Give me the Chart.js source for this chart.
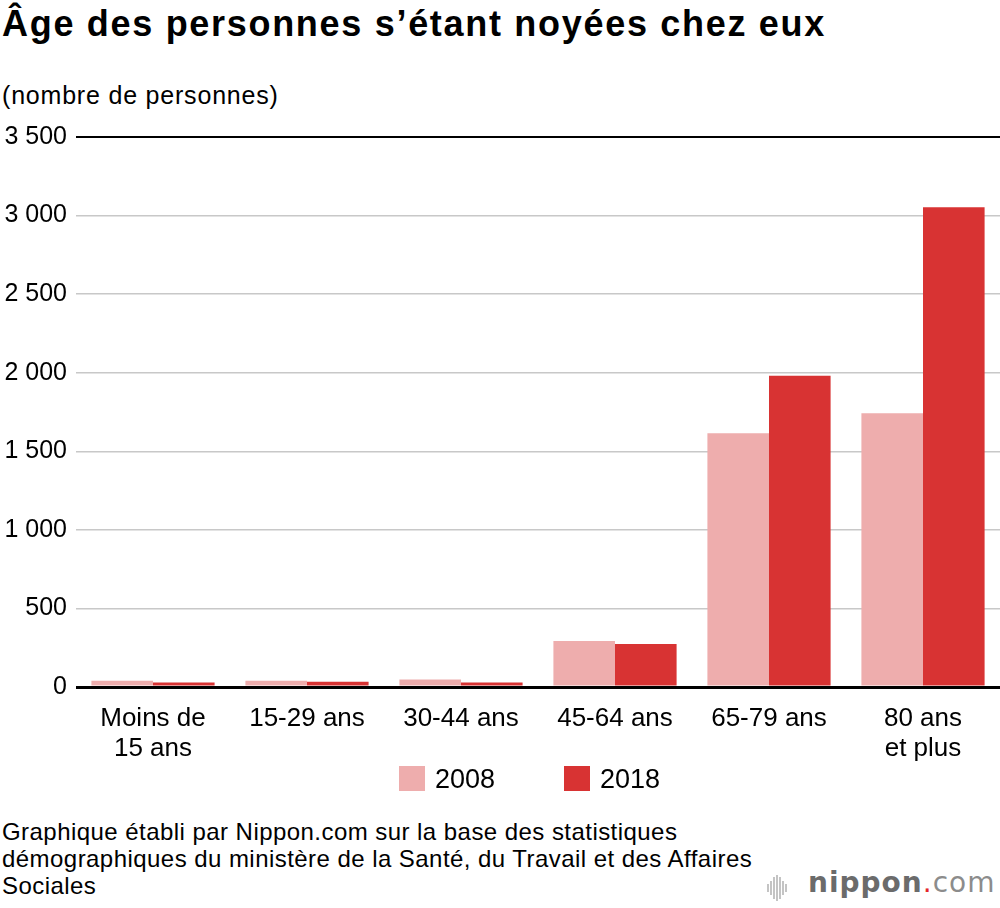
<!DOCTYPE html>
<html lang="fr">
<head>
<meta charset="utf-8">
<script src="https://cdn.jsdelivr.net/npm/chart.js@4/dist/chart.umd.min.js"></script>
<style>
  html, body { margin: 0; padding: 0; background: #fff; }
  body { width: 1000px; height: 908px; position: relative; overflow: hidden;
         font-family: "Liberation Sans", Arial, sans-serif; color: #000; }
  #title { position: absolute; left: 2px; top: 3px; font-size: 36px; line-height: 42px; font-weight: bold; margin: 0; letter-spacing: 1.7px; white-space: nowrap; }
  #unit { position: absolute; left: 2px; top: 80px; font-size: 25px; line-height: 30px; letter-spacing: 0.8px; }
  #chartBox { position: absolute; left: 0; top: 113px; width: 1000px; height: 653px; }
  #legend { position: absolute; top: 762px; left: 0; width: 1000px; height: 34px; font-size: 27px; line-height: 34px; }
  #legend span { position: absolute; top: 4px; width: 26px; height: 25px; }
  #legend em { position: absolute; top: 0; font-style: normal; }
  #source { position: absolute; left: 2px; top: 818px; font-size: 24px; line-height: 27px; letter-spacing: 0.45px; white-space: nowrap; }
  #logo { position: absolute; left: 767px; top: 866px; font-family: "DejaVu Sans", sans-serif; font-size: 28px; line-height: 34px; letter-spacing: 1px; color: #6b6b6b; white-space: nowrap; }
  #logo .bars { display: inline-block; vertical-align: -4px; margin-right: 20px; height: 26px; }
  #logo .bars i { display: inline-block; width: 2px; background: #c4c4c4; margin-right: 1px; vertical-align: middle; }
  #logo b { font-weight: bold; }
  #logo .dot { color: #e5262b; }
  #logo .com { color: #8c8c8c; }
</style>
</head>
<body>
<h1 id="title">Âge des personnes s’étant noyées chez eux</h1>
<div id="unit">(nombre de personnes)</div>
<div id="chartBox"><canvas id="drownChart"></canvas></div>
<div id="legend"></div>
<div id="source">Graphique établi par Nippon.com sur la base des statistiques<br>démographiques du ministère de la Santé, du Travail et des Affaires<br>Sociales</div>
<div id="logo"><span class="bars"><i style="height:8px"></i><i style="height:14px"></i><i style="height:22px"></i><i style="height:26px"></i><i style="height:22px"></i><i style="height:14px"></i><i style="height:8px"></i></span><b>nippon</b><span class="dot">.</span><span class="com">com</span></div>

<script>
// données
const ageGroups = [['Moins de', '15 ans'], '15-29 ans', '30-44 ans', '45-64 ans', '65-79 ans', ['80 ans', 'et plus']];
const years = ['2008', '2018'];
const deaths2008 = [40, 40, 47, 292, 1615, 1742];
const deaths2018 = [28, 34, 28, 274, 1980, 3053];
const yTicks = [0, 500, 1000, 1500, 2000, 2500, 3000, 3500];
const barColors = ['#eeadad', '#d83333'];

const fontFamily = '"Liberation Sans", Arial, sans-serif';
const fmt = v => String(v).replace(/\B(?=(\d{3})+(?!\d))/g, ' ');

// légende
const legendBox = document.getElementById('legend');
const legendX = [399, 564];
years.forEach((y, i) => {
  legendBox.insertAdjacentHTML('beforeend',
    `<span style="left:${legendX[i]}px;background:${barColors[i]}"></span><em style="left:${legendX[i] + 36}px">${y}</em>`);
});

const ctx = document.getElementById('drownChart').getContext('2d');
new Chart(ctx, {
  type: 'bar',
  data: {
    labels: ageGroups,
    datasets: [
      { label: years[0], data: deaths2008, backgroundColor: barColors[0], borderWidth: 0 },
      { label: years[1], data: deaths2018, backgroundColor: barColors[1], borderWidth: 0 }
    ]
  },
  options: {
    responsive: true,
    maintainAspectRatio: false,
    animation: false,
    layout: { padding: { top: 22, right: 0, left: 0, bottom: 0 } },
    datasets: { bar: { categoryPercentage: 0.8, barPercentage: 1.0 } },
    plugins: {
      legend: { display: false },
      tooltip: { enabled: false }
    },
    scales: {
      x: {
        grid: { display: false },
        border: { display: false },
        afterFit: axis => { axis.height = 79; },
        ticks: {
          color: '#000',
          maxRotation: 0,
          autoSkip: false,
          padding: 9,
          font: { family: fontFamily, size: 26, lineHeight: 1.15 }
        }
      },
      y: {
        min: 0,
        max: 3500,
        afterBuildTicks: axis => { axis.ticks = yTicks.map(v => ({ value: v })); },
        afterFit: axis => { axis.width = 76; },
        border: { display: false },
        grid: {
          drawTicks: false,
          color: c => (c.tick && (c.tick.value === 0 || c.tick.value === 3500)) ? '#000' : '#c8c8c8',
          lineWidth: c => c.tick && c.tick.value === 0 ? 3 : (c.tick && c.tick.value === 3500 ? 2 : 1.5)
        },
        ticks: {
          color: '#000',
          padding: 9,
          font: { family: fontFamily, size: 25 },
          callback: v => fmt(v)
        }
      }
    }
  }
});
</script>
</body>
</html>
